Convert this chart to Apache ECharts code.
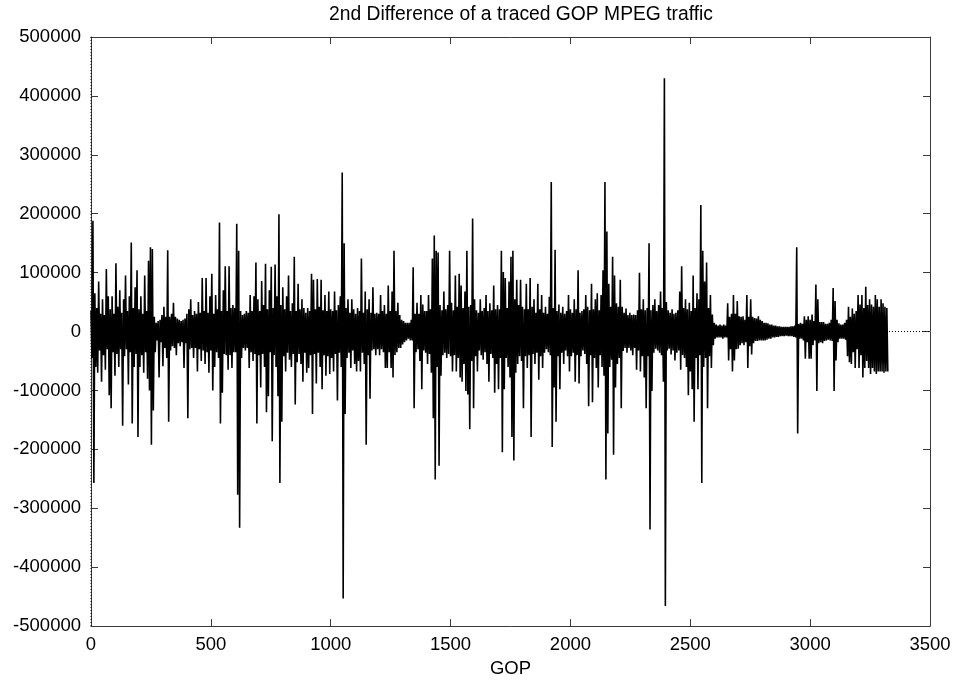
<!DOCTYPE html>
<html>
<head>
<meta charset="utf-8">
<script src="https://cdn.jsdelivr.net/npm/echarts@6/dist/echarts.min.js"></script>
<style>
  html, body { margin: 0; padding: 0; background: #fff; overflow: hidden; }
  #chart { width: 954px; height: 683px; }
</style>
</head>
<body>
<div id="chart"></div>
<script>
// ---- data ----
const chartTitle = "2nd Difference of a traced GOP MPEG traffic";
const xAxisName = "GOP";
// The trace is read column by column: every GOP_STEP GOPs (about two screen pixels)
// the highest and the lowest value of the 2nd difference in that column, in thousands.
const GOP_STEP = 8;
const highK_0000 = [35,188,65,40,85,30,55,28,106,60,38,60,30,116,42,70,32,55,95,35,60,151,40,75,104];
const lowK_0000  = [-45,-257,-60,-70,-32,-85,-40,-65,-30,-108,-130,-35,-75,-38,-60,-30,-160,-42,-30,-90,-35,-156,-60,-38,-179];
const highK_0200 = [38,60,30,95,35,120,143,140,25,15,18,20,28,42,25,138,25,30,49,25,22,20,18,20,22];
const lowK_0200  = [-60,-40,-70,-35,-80,-100,-192,-134,-35,-15,-78,-18,-59,-28,-45,-153,-32,-25,-28,-40,-20,-25,-18,-62,-20];
const highK_0400 = [30,38,55,28,35,30,50,32,91,35,91,32,60,98,30,62,38,185,35,70,111,35,111,40,45];
const lowK_0400  = [-147,-30,-28,-45,-28,-68,-30,-50,-32,-55,-35,-70,-32,-100,-60,-35,-45,-156,-104,-38,-40,-65,-40,-62,-35];
const highK_0600 = [40,183,137,35,28,30,35,32,62,35,60,117,55,35,86,45,115,38,70,110,40,114,60,199,45];
const lowK_0600  = [-35,-277,-333,-45,-28,-32,-28,-62,-35,-50,-38,-156,-40,-95,-38,-60,-137,-110,-35,-186,-40,-60,-110,-257,-153];
const highK_0800 = [75,38,60,95,35,48,127,35,81,38,55,40,32,40,35,98,88,38,89,42,88,36,62,35,68];
const lowK_0800  = [-42,-68,-36,-48,-60,-38,-124,-52,-38,-55,-85,-36,-70,-62,-40,-140,-38,-88,-36,-60,-98,-40,-75,-42,-72];
const highK_1000 = [38,35,68,36,45,60,270,150,40,55,32,55,38,30,40,35,124,32,68,38,55,32,75,30,32];
const lowK_1000  = [-45,-68,-38,-117,-36,-60,-453,-140,-45,-36,-62,-32,-55,-68,-50,-68,-36,-55,-192,-40,-114,-32,-30,-40,-30];
const highK_1200 = [30,62,35,45,30,78,35,68,137,35,49,28,20,18,15,15,15,20,109,30,49,30,62,46,35];
const lowK_1200  = [-40,-30,-35,-62,-62,-35,-62,-78,-40,-35,-28,-28,-22,-18,-15,-12,-15,-15,-130,-35,-30,-50,-98,-32,-36];
const highK_1400 = [35,62,38,124,163,137,134,45,36,68,38,45,137,49,36,95,42,98,78,40,68,137,42,45,192];
const lowK_1400  = [-55,-38,-70,-147,-251,-60,-228,-75,-40,-36,-45,-38,-42,-68,-40,-68,-45,-78,-85,-55,-101,-107,-166,-50,-130];
const highK_1600 = [55,36,32,55,35,40,62,35,48,36,78,38,45,38,137,101,91,40,85,127,137,55,88,45,88];
const lowK_1600  = [-42,-68,-32,-40,-48,-35,-55,-85,-38,-45,-104,-55,-98,-45,-205,-98,-45,-60,-78,-179,-219,-70,-55,-42,-50];
const highK_1800 = [42,38,81,38,91,42,55,32,81,38,62,32,42,30,59,254,40,139,35,46,32,42,30,35,62];
const lowK_1800  = [-130,-42,-62,-40,-179,-38,-55,-36,-82,-42,-62,-36,-30,-35,-40,-196,-95,-153,-42,-98,-36,-55,-32,-42,-68];
const highK_2000 = [38,32,55,38,104,32,35,38,62,42,36,81,38,55,65,36,62,104,254,170,81,42,127,95,48];
const lowK_2000  = [-42,-36,-85,-40,-88,-42,-32,-38,-55,-127,-40,-120,-45,-62,-95,-40,-60,-75,-251,-173,-60,-48,-209,-95,-55];
const highK_2200 = [42,88,42,32,39,28,32,28,29,28,36,100,38,55,36,40,150,36,45,55,35,45,68,40,430];
const lowK_2200  = [-45,-130,-33,-28,-36,-28,-32,-40,-28,-65,-32,-68,-42,-78,-130,-42,-336,-101,-36,-29,-32,-36,-40,-85,-466];
const highK_2400 = [50,36,32,38,30,32,36,68,111,40,55,38,49,35,95,40,65,55,215,137,85,117,40,62,29];
const lowK_2400  = [-32,-29,-39,-32,-49,-36,-32,-65,-40,-45,-60,-108,-68,-98,-153,-45,-98,-40,-257,-60,-45,-130,-42,-62,-23];
const highK_2600 = [15,12,10,12,10,12,10,48,25,30,62,30,52,26,25,26,20,62,25,55,25,23,22,26,20];
const lowK_2600  = [-12,-10,-10,-10,-12,-10,-10,-49,-30,-68,-49,-30,-29,-23,-20,-23,-18,-62,-25,-39,-20,-16,-16,-15,-15];
const highK_2800 = [18,15,15,14,12,12,10,10,9,9,8,8,8,8,8,9,9,10,143,13,15,13,26,20,26];
const lowK_2800  = [-15,-15,-14,-12,-12,-10,-10,-9,-9,-8,-8,-8,-7,-8,-8,-8,-9,-10,-173,-12,-12,-15,-46,-18,-46];
const highK_3000 = [20,29,18,80,55,16,16,16,13,13,15,20,74,52,20,14,12,12,15,20,42,25,39,30,35];
const lowK_3000  = [-46,-23,-15,-101,-20,-18,-20,-16,-15,-14,-15,-16,-101,-49,-18,-12,-12,-12,-14,-42,-52,-55,-35,-62,-30];
const highK_3200 = [62,46,62,40,76,45,55,46,42,62,55,42,55,48,42,40];
const lowK_3200  = [-62,-40,-78,-62,-50,-62,-72,-62,-68,-72,-68,-68,-68,-70,-68,-68];

const xMin = 0, xMax = 3500, xStep = 500;
const yMin = -500000, yMax = 500000, yStep = 100000;

// ---- build the line: high then low in each column ----
const highK = [].concat(highK_0000, highK_0200, highK_0400, highK_0600, highK_0800, highK_1000,
  highK_1200, highK_1400, highK_1600, highK_1800, highK_2000, highK_2200, highK_2400,
  highK_2600, highK_2800, highK_3000, highK_3200);
const lowK = [].concat(lowK_0000, lowK_0200, lowK_0400, lowK_0600, lowK_0800, lowK_1000,
  lowK_1200, lowK_1400, lowK_1600, lowK_1800, lowK_2000, lowK_2200, lowK_2400,
  lowK_2600, lowK_2800, lowK_3000, lowK_3200);
const seriesData = [];
for (let i = 0; i < highK.length; i++) {
  seriesData.push([i * GOP_STEP, highK[i] * 1000]);
  seriesData.push([i * GOP_STEP + GOP_STEP / 2, lowK[i] * 1000]);
}

const FONT = "'Liberation Sans', Arial, Helvetica, sans-serif";
const BORDER = '#3a3a3a';

const chart = echarts.init(document.getElementById('chart'), null, { renderer: 'canvas', width: 954, height: 683 });

const axisCommon = {
  axisLine: { show: true, onZero: false, lineStyle: { color: BORDER, width: 1 } },
  axisTick: { show: true, inside: true, length: 7, lineStyle: { color: BORDER, width: 1 } },
  splitLine: { show: false }
};
const plain = v => String(v);

chart.setOption({
  animation: false,
  backgroundColor: '#ffffff',
  title: {
    text: chartTitle,
    left: 324,
    top: 0,
    textStyle: { fontFamily: FONT, fontSize: 19.3, fontWeight: 'normal', color: '#000' }
  },
  grid: { left: 91, top: 37, width: 839, height: 597, containLabel: false },
  xAxis: [
    Object.assign({
      type: 'value', min: xMin, max: xMax, interval: xStep, position: 'bottom',
      name: xAxisName, nameLocation: 'middle', nameGap: 25,
      nameTextStyle: { fontFamily: FONT, fontSize: 18.5, color: '#000' },
      axisLabel: { show: true, margin: 9, formatter: plain, fontFamily: FONT, fontSize: 18.5, color: '#000' }
    }, axisCommon),
    Object.assign({
      type: 'value', min: xMin, max: xMax, interval: xStep, position: 'top',
      axisLabel: { show: false }
    }, axisCommon)
  ],
  yAxis: [
    Object.assign({
      type: 'value', min: yMin, max: yMax, interval: yStep, position: 'left',
      axisLabel: { show: true, margin: 10, formatter: plain, fontFamily: FONT, fontSize: 18.5, color: '#000' }
    }, axisCommon),
    Object.assign({
      type: 'value', min: yMin, max: yMax, interval: yStep, position: 'right',
      axisLabel: { show: false }
    }, axisCommon)
  ],
  series: [
    {
      name: 'zero-x', type: 'line', xAxisIndex: 0, yAxisIndex: 0, z: 1,
      data: [[xMin, 0], [xMax, 0]], showSymbol: false, silent: true,
      lineStyle: { color: '#000', width: 1, type: [1, 2] }
    },
    {
      name: 'zero-y', type: 'line', xAxisIndex: 0, yAxisIndex: 0, z: 1,
      data: [[0, yMin], [0, yMax]], showSymbol: false, silent: true,
      lineStyle: { color: '#000', width: 1, type: [1, 2] }
    },
    {
      name: 'diff', type: 'line', xAxisIndex: 0, yAxisIndex: 0, z: 3,
      data: seriesData, showSymbol: false, symbol: 'none', silent: true,
      lineStyle: { color: '#000', width: 1.6, join: 'bevel' }
    }
  ]
});
</script>
</body>
</html>
